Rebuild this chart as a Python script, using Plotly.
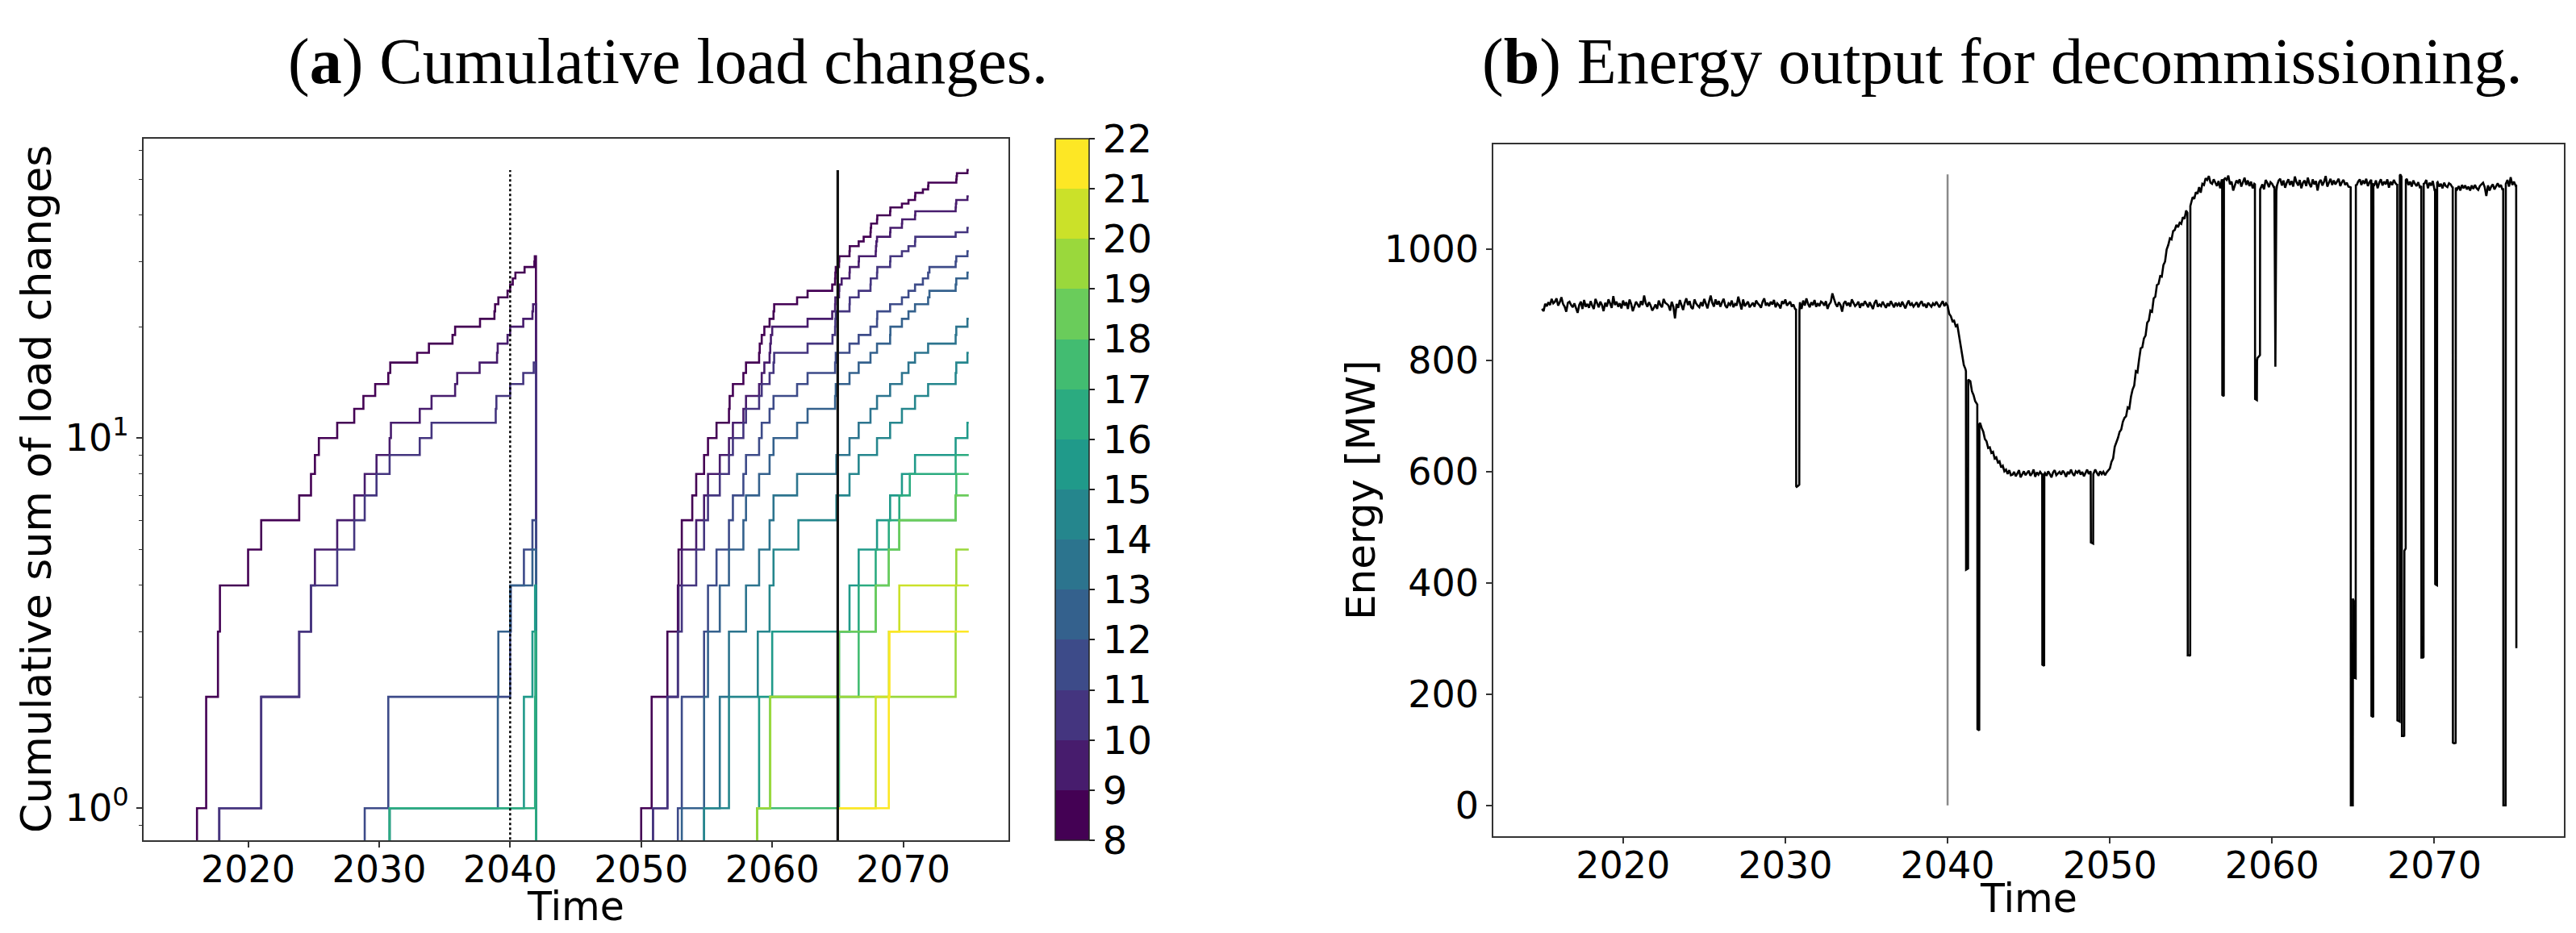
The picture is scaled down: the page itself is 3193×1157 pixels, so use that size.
import plotly.graph_objects as go
from plotly.colors import sample_colorscale

# ---------------- Panel (a): cumulative load changes ----------------
# Each list holds the years at which one load change happened (count steps +1).
# First operating period (curves drop back to zero at decommissioning ~2042)
early_v8 = [2016.1, 2016.8, 2017.7, 2017.85, 2020.0, 2021.0, 2023.9, 2024.8, 2025.1, 2025.4,
            2026.8, 2028.1, 2028.8, 2029.7, 2030.7, 2030.85, 2032.9, 2033.8, 2035.6, 2035.8,
            2037.7, 2038.8, 2038.85, 2039.1, 2039.8, 2040.0, 2040.2, 2040.4, 2041.1, 2041.85, 2041.88]
early_v9 = [2017.8, 2021.0, 2023.9, 2024.8, 2025.1, 2026.8, 2028.1, 2028.9, 2029.8, 2030.8,
            2030.9, 2033.1, 2034.0, 2035.8, 2035.96, 2037.67, 2039.0, 2039.05, 2039.8, 2040.0,
            2041.0, 2041.7, 2041.75]
early_v10 = [2017.8, 2021.0, 2023.9, 2024.8, 2026.8, 2028.1, 2028.9, 2029.8, 2030.8, 2033.1,
             2034.0, 2038.9, 2038.95, 2040.0, 2041.0, 2041.8]
early_v11 = [2028.9, 2030.7, 2040.0, 2040.05, 2041.05, 2041.7]
early_v12 = [2030.8, 2039.06, 2039.1, 2040.0, 2041.7]
early_v15 = [2030.8, 2041.05, 2041.7, 2041.9]
early_v16 = [2030.8, 2041.9, 2041.92]

# Second operating period
late_v8 = [2050.0, 2050.8, 2052.0, 2052.8, 2052.85, 2053.1, 2053.9, 2054.2, 2054.8, 2055.1,
           2055.75, 2056.7, 2056.75, 2057.0, 2057.8, 2058.0, 2059.0, 2059.05, 2059.2, 2059.4,
           2059.8, 2060.1, 2060.15, 2061.9, 2062.7, 2064.58, 2064.8, 2064.82, 2064.85, 2065.1,
           2065.12, 2065.9, 2065.92, 2066.6, 2066.98, 2067.5, 2067.52, 2067.55, 2068.0, 2068.02,
           2069.0, 2069.02, 2069.9, 2070.4, 2070.9, 2070.92, 2071.5, 2071.9, 2071.92, 2074.05,
           2074.07, 2074.1, 2074.9]
late_v9 = [2050.9, 2052.0, 2052.8, 2052.85, 2053.1, 2054.2, 2054.8, 2055.1, 2056.0, 2056.7,
           2057.0, 2057.8, 2058.0, 2059.0, 2059.2, 2059.4, 2059.8, 2059.85, 2059.9, 2060.0,
           2062.7, 2064.58, 2064.8, 2064.82, 2065.1, 2065.12, 2065.3, 2065.9, 2065.92, 2066.6,
           2066.62, 2067.9, 2067.92, 2067.95, 2068.0, 2069.0, 2069.02, 2069.9, 2069.92, 2070.9,
           2070.92, 2074.0, 2074.02, 2074.05, 2074.9]
late_v10 = [2050.9, 2052.0, 2052.8, 2053.1, 2054.2, 2054.8, 2055.1, 2056.0, 2056.7, 2057.0,
            2057.8, 2058.0, 2059.0, 2059.2, 2059.8, 2060.1, 2060.15, 2062.7, 2064.6, 2064.8,
            2064.82, 2064.85, 2065.9, 2065.92, 2066.6, 2067.5, 2067.52, 2068.0, 2068.02, 2069.0,
            2069.02, 2069.9, 2070.4, 2070.9, 2070.92, 2074.0, 2074.9]
late_v11 = [2052.8, 2053.1, 2054.8, 2055.1, 2055.75, 2056.7, 2057.0, 2057.8, 2058.0, 2059.0,
            2059.2, 2059.8, 2060.1, 2061.9, 2062.7, 2064.8, 2064.85, 2065.9, 2066.6, 2067.5,
            2068.0, 2068.02, 2069.0, 2069.9, 2070.4, 2070.9, 2071.5, 2071.9, 2072.0, 2074.0,
            2074.05, 2074.9]
late_v12 = [2053.1, 2054.8, 2055.1, 2056.0, 2056.7, 2057.8, 2058.0, 2059.0, 2059.8, 2060.1,
            2061.9, 2062.7, 2064.8, 2064.85, 2065.9, 2066.6, 2067.5, 2068.0, 2069.0, 2069.02,
            2069.9, 2070.4, 2070.9, 2071.9, 2072.0, 2074.0, 2074.05, 2074.9]
late_v13 = [2054.8, 2056.0, 2056.7, 2058.0, 2059.0, 2059.8, 2060.1, 2061.9, 2064.9, 2065.9,
            2066.6, 2067.5, 2068.0, 2069.0, 2069.9, 2070.4, 2070.9, 2071.9, 2074.0, 2074.05, 2074.9]
late_v14 = [2054.8, 2056.7, 2058.9, 2059.8, 2060.1, 2062.0, 2064.9, 2065.9, 2066.6, 2068.0,
            2069.0, 2069.9, 2070.9, 2071.9, 2074.0, 2074.05, 2074.9]
late_v15 = [2058.85, 2059.0, 2060.0, 2065.9, 2066.6, 2068.0, 2069.0, 2069.9, 2070.9, 2074.0, 2074.9]
late_v16 = [2058.85, 2059.85, 2065.1, 2066.6, 2067.9, 2068.9, 2069.7, 2070.5, 2074.0]
late_v17 = [2058.85, 2065.1, 2066.6, 2067.9, 2068.9, 2069.7, 2074.0, 2074.05]
late_v18 = [2058.85, 2059.85, 2065.1, 2067.9, 2068.9, 2069.7, 2074.0]
late_v19 = [2058.85, 2059.85, 2074.0, 2074.02, 2074.05]
late_v20 = [2065.0, 2067.9, 2068.9, 2069.7]
late_v21 = [2065.0, 2068.9, 2068.95]

early_series = [(8, early_v8), (9, early_v9), (10, early_v10), (11, early_v11),
                (12, early_v12), (15, early_v15), (16, early_v16)]
late_series = [(8, late_v8), (9, late_v9), (10, late_v10), (11, late_v11), (12, late_v12),
               (13, late_v13), (14, late_v14), (15, late_v15), (16, late_v16), (17, late_v17),
               (18, late_v18), (19, late_v19), (20, late_v20), (21, late_v21)]
early_end_year = 2041.97
late_end_year = 2075.0

dotted_line_year = 2040
solid_line_year = 2065

cbar_min, cbar_max = 8, 22
cbar_ticks = list(range(8, 23))

# ---------------- Panel (b): energy output ----------------
energy_start = 2015.0
energy_step = 0.1
energy_mw = [
    893, 889, 902, 898, 905, 900, 911, 903, 906, 912,  # 2015
    899, 905, 914, 902, 897, 888, 904, 906, 900, 896,  # 2016
    903, 895, 886, 900, 906, 893, 909, 897, 902, 895,  # 2017
    907, 899, 893, 911, 902, 896, 906, 900, 889, 904,  # 2018
    897, 910, 903, 895, 916, 900, 906, 897, 903, 894,  # 2019
    908, 899, 905, 893, 910, 902, 889, 898, 906, 901,  # 2020
    896, 907, 900, 917, 903, 897, 905, 899, 890, 895,  # 2021
    901, 893, 908, 900, 896, 911, 904, 902, 899, 890,  # 2022
    906, 897, 876, 902, 895, 909, 898, 891, 904, 912,  # 2023
    900, 907, 896, 893, 910, 903, 899, 896, 905, 898,  # 2024
    911, 902, 894, 906, 917, 904, 897, 910, 901, 907,  # 2025
    897, 905, 911, 899, 895, 903, 900, 908, 896, 902,  # 2026
    899, 915, 905, 892, 910, 898, 902, 906, 896, 901,  # 2027
    904, 897, 908, 903, 900, 895, 906, 912, 899, 904,  # 2028
    898, 906, 901, 909, 896, 903, 900, 894, 907, 902,  # 2029
    910, 899, 903, 906, 897, 901, 893, 573, 575, 905,  # 2030
    893, 908, 899, 912, 902, 896, 905, 900, 909, 897,  # 2031
    903, 898, 906, 904, 899, 907, 893, 901, 905, 921,  # 2032
    911, 902, 897, 905, 900, 888, 903, 907, 899, 904,  # 2033
    897, 910, 904, 898, 901, 906, 895, 903, 899, 907,  # 2034
    902, 896, 905, 900, 893, 904, 909, 897, 901, 898,  # 2035
    906, 900, 895, 903, 898, 907, 901, 896, 904, 899,  # 2036
    903, 897, 906, 900, 894, 902, 908, 899, 903, 897,  # 2037
    901, 905, 896, 903, 907, 898, 902, 895, 904, 900,  # 2038
    897, 903, 899, 906, 900, 896, 902, 907, 898, 903,  # 2039
    899, 884, 880, 871, 872, 862, 864, 845, 830, 810,  # 2040
    792, 785, 425, 765, 763, 745, 738, 727, 722, 136,  # 2041
    688, 679, 672, 659, 655, 643, 644, 634, 636, 624,  # 2042
    626, 617, 619, 608, 611, 601, 604, 596, 603, 594,  # 2043
    595, 600, 592, 597, 603, 590, 596, 601, 594, 598,  # 2044
    602, 593, 597, 604, 591, 599, 595, 600, 596, 252,  # 2045
    598, 593, 601, 596, 590, 599, 603, 594, 597, 600,  # 2046
    595, 602, 598, 591, 600, 596, 604, 597, 593, 601,  # 2047
    598, 603, 595, 600, 592, 598, 604, 596, 601, 472,  # 2048
    597, 604, 598, 593, 601, 596, 600, 594, 599, 603,  # 2049
    606, 618, 624, 645, 652, 661, 672, 676, 690, 697,  # 2050
    700, 716, 714, 735, 748, 755, 781, 779, 802, 822,  # 2051
    824, 840, 845, 868, 872, 890, 888, 912, 915, 936,  # 2052
    938, 952, 951, 972, 978, 1000, 1008, 1020, 1018, 1033,  # 2053
    1035, 1044, 1040, 1048, 1046, 1058, 1055, 1070, 270, 270,  # 2054
    1082, 1094, 1091, 1103, 1100, 1112, 1102, 1118, 1116, 1128,  # 2055
    1125, 1132, 1120, 1118, 1126, 1119, 1114, 1123, 1110, 1126,  # 2056
    737, 1128, 1125, 1133, 1117, 1122, 1106, 1117, 1124, 1120,  # 2057
    1126, 1113, 1121, 1129, 1116, 1124, 1114, 1122, 1110, 1118,  # 2058
    730, 805, 808, 1110, 1117, 1108, 1125, 1120, 1112, 1121,  # 2059
    1118, 1112, 789, 1115, 1124, 1127, 1115, 1124, 1111, 1120,  # 2060
    1126, 1116, 1123, 1113, 1131, 1121, 1115, 1125, 1110, 1120,  # 2061
    1124, 1114, 1129, 1118, 1112, 1126, 1117, 1123, 1106, 1121,  # 2062
    1125, 1115, 1122, 1132, 1113, 1120, 1127, 1116, 1124, 1117,  # 2063
    1122, 1127, 1114, 1121, 1125, 1116, 1120, 1113, 1112, 0,  # 2064
    370, 230, 1115, 1122, 1126, 1116, 1124, 1118, 1127, 1114,  # 2065
    1121, 1125, 160, 1116, 1124, 1110, 1120, 1126, 1115, 1122,  # 2066
    1117, 1126, 1111, 1122, 1116, 1125, 1119, 1116, 152, 1135,  # 2067
    125, 125, 460, 1127, 1116, 1122, 1113, 1124, 1118, 1114,  # 2068
    1121, 1112, 266, 266, 1119, 1125, 1110, 1120, 1115, 1123,  # 2069
    1108, 397, 1121, 1113, 1118, 1110, 1120, 1114, 1112, 1119,  # 2070
    1117, 1112, 112, 112, 1108, 1114, 1106, 1116, 1110, 1115,  # 2071
    1108, 1113, 1106, 1115, 1109, 1116, 1110, 1107, 1114, 1117,  # 2072
    1120, 1112, 1096, 1115, 1106, 1113, 1117, 1108, 1114, 1119,  # 2073
    1112, 1116, 1107, 0, 1118, 1125, 1113, 1130, 1116, 1122,  # 2074
    1115,  # 2075.0
]
# extra readings around the sharp outage spikes
spike_t = [2030.66, 2030.67, 2030.86, 2030.87,
           2041.13, 2041.14, 2041.26, 2041.27,
           2041.83, 2041.84, 2041.95, 2041.96,
           2045.83, 2045.84, 2045.95, 2045.96,
           2048.82, 2048.83, 2048.97, 2048.98,
           2054.78, 2054.79, 2054.95, 2054.96,
           2056.92, 2056.93, 2057.02, 2057.03,
           2058.94, 2058.95, 2059.06, 2059.07, 2059.25, 2059.26,
           2060.14, 2060.26,
           2064.84, 2064.85, 2064.97, 2064.98, 2065.02, 2065.03, 2065.15, 2065.16,
           2066.11, 2066.12, 2066.23, 2066.24,
           2067.71, 2067.72, 2067.86, 2067.87, 2067.97, 2067.98, 2068.14, 2068.15, 2068.23, 2068.24,
           2069.19, 2069.33, 2069.34,
           2070.04, 2070.05, 2070.16, 2070.17,
           2071.13, 2071.14, 2071.31, 2071.32,
           2074.24, 2074.25, 2074.39,
           2075.04, 2075.05]
spike_mw = [892, 574, 577, 889,
            781, 424, 426, 766,
            721, 137, 135, 686,
            597, 253, 251, 596,
            599, 473, 471, 596,
            1066, 271, 269, 1078,
            1124, 738, 736, 1126,
            1117, 731, 729, 800, 810, 1108,
            1112, 1105,
            1113, 0, 0, 372, 368, 231, 229, 1117,
            1124, 161, 159, 1117,
            1118, 153, 151, 1133, 1131, 126, 124, 458, 462, 1125,
            1114, 267, 1118,
            1109, 398, 396, 1120,
            1113, 113, 111, 1111,
            1110, 0, 0,
            1116, 283]

# ---------------- build ----------------
W, H = 3193, 1157
FLOOR = 0.1  # zero counts are below the log-axis range
viridis = sample_colorscale('Viridis', [i / 13 for i in range(14)])


def color_for(v):
    return viridis[v - cbar_min]


def step_xy(events, end_year, drop):
    xs = [events[0]] + list(events) + [end_year]
    ys = [FLOOR] + list(range(1, len(events) + 1)) + [len(events)]
    if drop:
        xs.append(end_year)
        ys.append(FLOOR)
    return xs, ys


fig = go.Figure()
for v, ev in early_series:
    xs, ys = step_xy(ev, early_end_year, True)
    fig.add_trace(go.Scatter(x=xs, y=ys, mode='lines', line=dict(color=color_for(v), width=2.6, shape='hv'),
                             xaxis='x', yaxis='y', showlegend=False, hoverinfo='skip'))
for v, ev in late_series:
    xs, ys = step_xy(ev, late_end_year, False)
    fig.add_trace(go.Scatter(x=xs, y=ys, mode='lines', line=dict(color=color_for(v), width=2.6, shape='hv'),
                             xaxis='x', yaxis='y', showlegend=False, hoverinfo='skip'))

ymax_counts = max(len(ev) for _, ev in early_series + late_series)
fig.add_trace(go.Scatter(x=[dotted_line_year, dotted_line_year], y=[FLOOR, ymax_counts], mode='lines',
                         line=dict(color='black', width=2.5, dash='dot'), xaxis='x', yaxis='y',
                         showlegend=False, hoverinfo='skip'))
fig.add_trace(go.Scatter(x=[solid_line_year, solid_line_year], y=[FLOOR, ymax_counts], mode='lines',
                         line=dict(color='#111111', width=3.2), xaxis='x', yaxis='y',
                         showlegend=False, hoverinfo='skip'))

TICK_SIZE = 46
# discrete viridis colour bar
cscale = []
for i, c in enumerate(viridis):
    cscale.append([i / 14, c])
    cscale.append([(i + 1) / 14, c])
ax_top, ax_bot = 164, 1034
fig.add_trace(go.Scatter(
    x=[2000], y=[1], mode='markers', xaxis='x', yaxis='y', showlegend=False, hoverinfo='skip',
    marker=dict(size=1, color=[cbar_min], cmin=cbar_min, cmax=cbar_max, colorscale=cscale, showscale=True,
                colorbar=dict(x=1300 / W, xanchor='left', y=1 - (ax_top + ax_bot) / 2 / H, yanchor='middle',
                              len=(ax_bot - ax_top) / H, lenmode='fraction', thickness=42,
                              thicknessmode='pixels', xpad=0, ypad=0, outlinewidth=1.5,
                              outlinecolor='#222222', tickvals=cbar_ticks, ticks='outside', ticklen=7,
                              tickwidth=1.5, tickcolor='#222222',
                              tickfont=dict(size=TICK_SIZE + 2, family='DejaVu Sans', color='black')))))

# energy series
energy_t = [round(energy_start + i * energy_step, 2) for i in range(len(energy_mw))]
pairs = sorted(zip(energy_t + spike_t, energy_mw + spike_mw))
et = [p[0] for p in pairs]
ev = [p[1] for p in pairs]
fig.add_trace(go.Scatter(x=[2040, 2040], y=[0, max(ev)], mode='lines', line=dict(color='#8a8a8a', width=2.5),
                         xaxis='x2', yaxis='y2', showlegend=False, hoverinfo='skip'))
fig.add_trace(go.Scatter(x=et, y=ev, mode='lines', line=dict(color='black', width=2.6),
                         xaxis='x2', yaxis='y2', showlegend=False, hoverinfo='skip'))

tickfont = dict(size=TICK_SIZE, family='DejaVu Sans', color='black')
axis_common = dict(showline=True, mirror=True, linecolor='#333333', linewidth=1.5, ticks='outside',
                   ticklen=7, tickwidth=1.5, tickcolor='#333333', showgrid=False, zeroline=False,
                   tickfont=tickfont)

fig.update_layout(
    width=W, height=H, margin=dict(l=0, r=0, t=0, b=0),
    paper_bgcolor='white', plot_bgcolor='white',
    font=dict(family='DejaVu Sans', color='black'),
    xaxis=dict(domain=[169.6 / W, 1241.5 / W], range=[2012, 2078], anchor='y',
               tickvals=[2020, 2030, 2040, 2050, 2060, 2070], ticklabelstandoff=-12, **axis_common),
    yaxis=dict(domain=[1 - 1034.3 / H, 1 - 164 / H], type='log', range=[-0.0872, 1.809], anchor='x',
               tickvals=[1, 10], ticktext=['10<sup>0</sup>', '10<sup>1</sup>'],
               minor=dict(ticks='outside', ticklen=4, tickwidth=1.2, tickcolor='#333333',
                          tickvals=[0.9, 2, 3, 4, 5, 6, 7, 8, 9, 20, 30, 40, 50, 60]),
               **axis_common),
    xaxis2=dict(domain=[1842.9 / W, 3170.4 / W], range=[2012, 2078], anchor='y2',
                tickvals=[2020, 2030, 2040, 2050, 2060, 2070], ticklabelstandoff=-12, **axis_common),
    yaxis2=dict(domain=[1 - 1029 / H, 1 - 171 / H], range=[-55.4, 1189], anchor='x2',
                tickvals=[0, 200, 400, 600, 800, 1000], **axis_common),
)

ann = [
    dict(text='(<b>a</b>) Cumulative load changes.', x=820 / W, y=1 - 68 / H,
         font=dict(family='Liberation Serif', size=80, color='black')),
    dict(text='(<b>b</b>) Energy output for decommissioning.', x=2474 / W, y=1 - 68 / H,
         font=dict(family='Liberation Serif', size=80, color='black')),
    dict(text='Cumulative sum of load changes', x=37 / W, y=1 - 599 / H, textangle=-90,
         font=dict(size=52, family='DejaVu Sans', color='black')),
    dict(text='Time', x=705 / W, y=1 - 1116 / H, font=dict(size=49, family='DejaVu Sans', color='black')),
    dict(text='Energy [MW]', x=1679 / W, y=1 - 600 / H, textangle=-90,
         font=dict(size=50, family='DejaVu Sans', color='black')),
    dict(text='Time', x=2506 / W, y=1 - 1106 / H, font=dict(size=49, family='DejaVu Sans', color='black')),
]
for a in ann:
    fig.add_annotation(xref='paper', yref='paper', showarrow=False, xanchor='center', yanchor='middle', **a)

fig.write_html('out.html')
